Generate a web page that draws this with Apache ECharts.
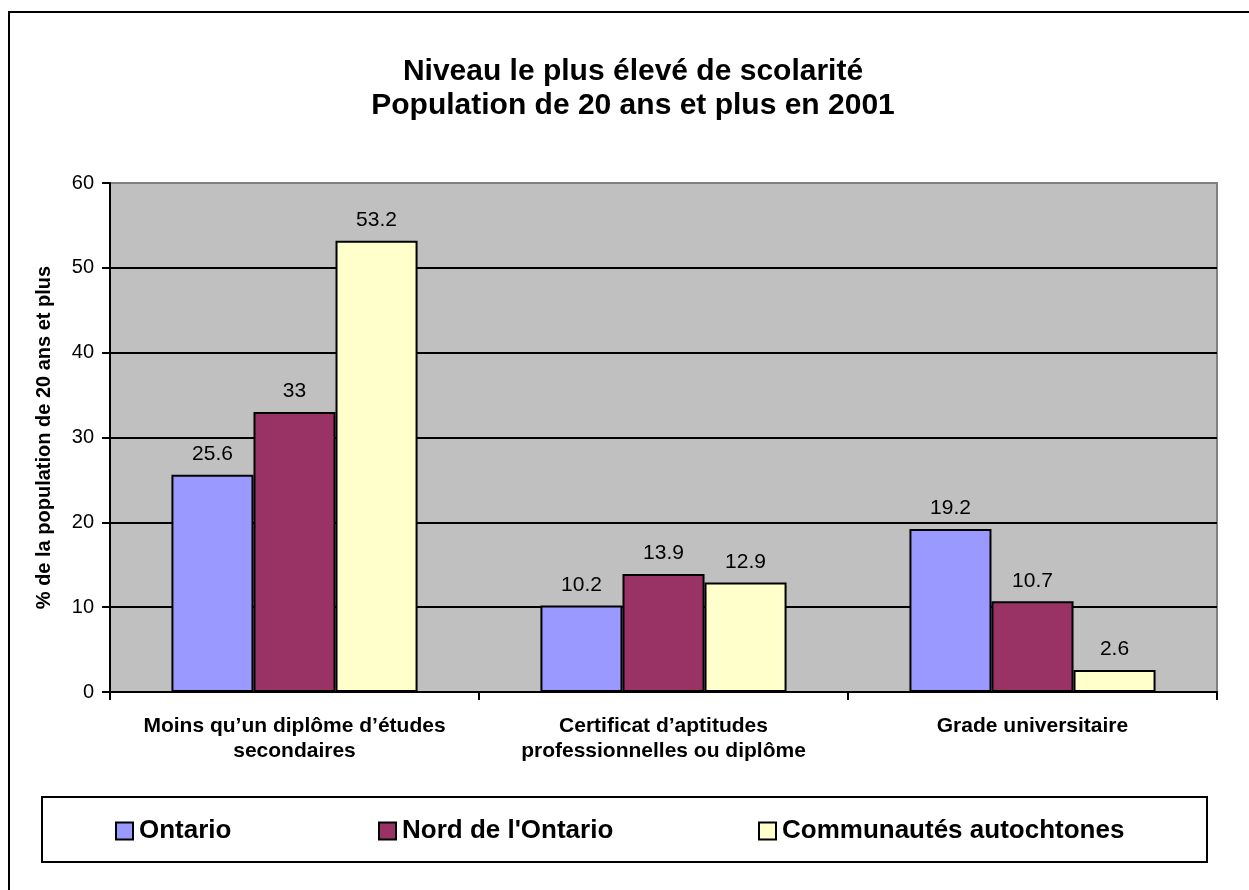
<!DOCTYPE html>
<html>
<head>
<meta charset="utf-8">
<script src="https://cdn.jsdelivr.net/npm/echarts@6/dist/echarts.min.js"></script>
<style>
html,body{margin:0;padding:0;background:#fff;}
#chart{width:1249px;height:890px;}
</style>
</head>
<body>
<div id="chart"></div>
<script>
const categories = [
  "Moins qu\u2019un diplôme d\u2019études\nsecondaires",
  "Certificat d\u2019aptitudes\nprofessionnelles ou diplôme",
  "Grade universitaire"
];
const seriesNames = ["Ontario", "Nord de l'Ontario", "Communautés autochtones"];
const ontario = [25.6, 10.2, 19.2];
const nordOntario = [33, 13.9, 10.7];
const autochtones = [53.2, 12.9, 2.6];
const seriesColors = ["#9999FF", "#993366", "#FFFFCC"];
const yTicks = [0, 10, 20, 30, 40, 50, 60];
const titleText = "Niveau le plus élevé de scolarité\nPopulation de 20 ans et plus en 2001";
const yAxisName = "% de la population de 20 ans et plus";

const FONT = "Liberation Sans, Arial, sans-serif";
const values = [ontario, nordOntario, autochtones];

const chart = echarts.init(document.getElementById('chart'), null, {renderer: 'canvas'});

const legendLefts = [115, 378, 758];

const option = {
  backgroundColor: '#ffffff',
  animation: false,
  textStyle: {fontFamily: FONT},
  title: {
    text: titleText,
    left: 628,
    textAlign: 'center',
    top: 50,
    textStyle: {fontFamily: FONT, fontSize: 30, fontWeight: 'bold', color: '#000', lineHeight: 34}
  },
  graphic: [
    {type: 'rect', shape: {x: 9, y: 12, width: 1400, height: 1000}, style: {fill: 'none', stroke: '#000', lineWidth: 2}, z: 100, silent: true},
    {type: 'rect', shape: {x: 42, y: 797, width: 1165, height: 65}, style: {fill: '#fff', stroke: '#000', lineWidth: 2}, z: 0, silent: true}
  ],
  legend: seriesNames.map((n, i) => ({
    data: [n],
    left: legendLefts[i],
    top: 818,
    itemWidth: 17,
    itemHeight: 17,
    icon: 'rect',
    padding: 0,
    z: 10,
    selectedMode: false,
    itemStyle: {borderColor: '#000', borderWidth: 2},
    textStyle: {fontFamily: FONT, fontSize: 26, fontWeight: 'bold', color: '#000', padding: [0, 0, 0, 1]}
  })),
  grid: {
    left: 110, right: 32, top: 183, bottom: 198,
    show: true, backgroundColor: '#C0C0C0', borderColor: '#808080', borderWidth: 2
  },
  xAxis: {
    type: 'category',
    data: categories,
    axisLine: {lineStyle: {color: '#000', width: 2}},
    axisTick: {show: true, alignWithLabel: false, length: 8, lineStyle: {color: '#000', width: 2}},
    axisLabel: {fontFamily: FONT, fontSize: 21, fontWeight: 'bold', color: '#000', margin: 22, lineHeight: 25, interval: 0}
  },
  yAxis: {
    type: 'value',
    min: yTicks[0], max: yTicks[yTicks.length - 1], interval: 10,
    name: yAxisName,
    nameLocation: 'middle',
    nameGap: 56,
    nameTextStyle: {fontFamily: FONT, fontSize: 20, fontWeight: 'bold', color: '#000'},
    axisLine: {show: true, lineStyle: {color: '#000', width: 2}},
    axisTick: {show: true, length: 8, lineStyle: {color: '#000', width: 2}},
    axisLabel: {fontFamily: FONT, fontSize: 20, color: '#000', margin: 16},
    splitLine: {show: true, lineStyle: {color: ['#000', '#000', '#000', '#000', '#000', '#000', '#808080'], width: 2}}
  },
  series: seriesNames.map((n, i) => ({
    name: n,
    type: 'bar',
    data: values[i],
    barGap: '0%',
    barCategoryGap: '33.3%',
    itemStyle: {color: seriesColors[i], borderColor: '#000', borderWidth: 2},
    label: {show: true, position: 'top', distance: 10, fontFamily: FONT, fontSize: 21, color: '#000'}
  }))
};
chart.setOption(option);
</script>
</body>
</html>
